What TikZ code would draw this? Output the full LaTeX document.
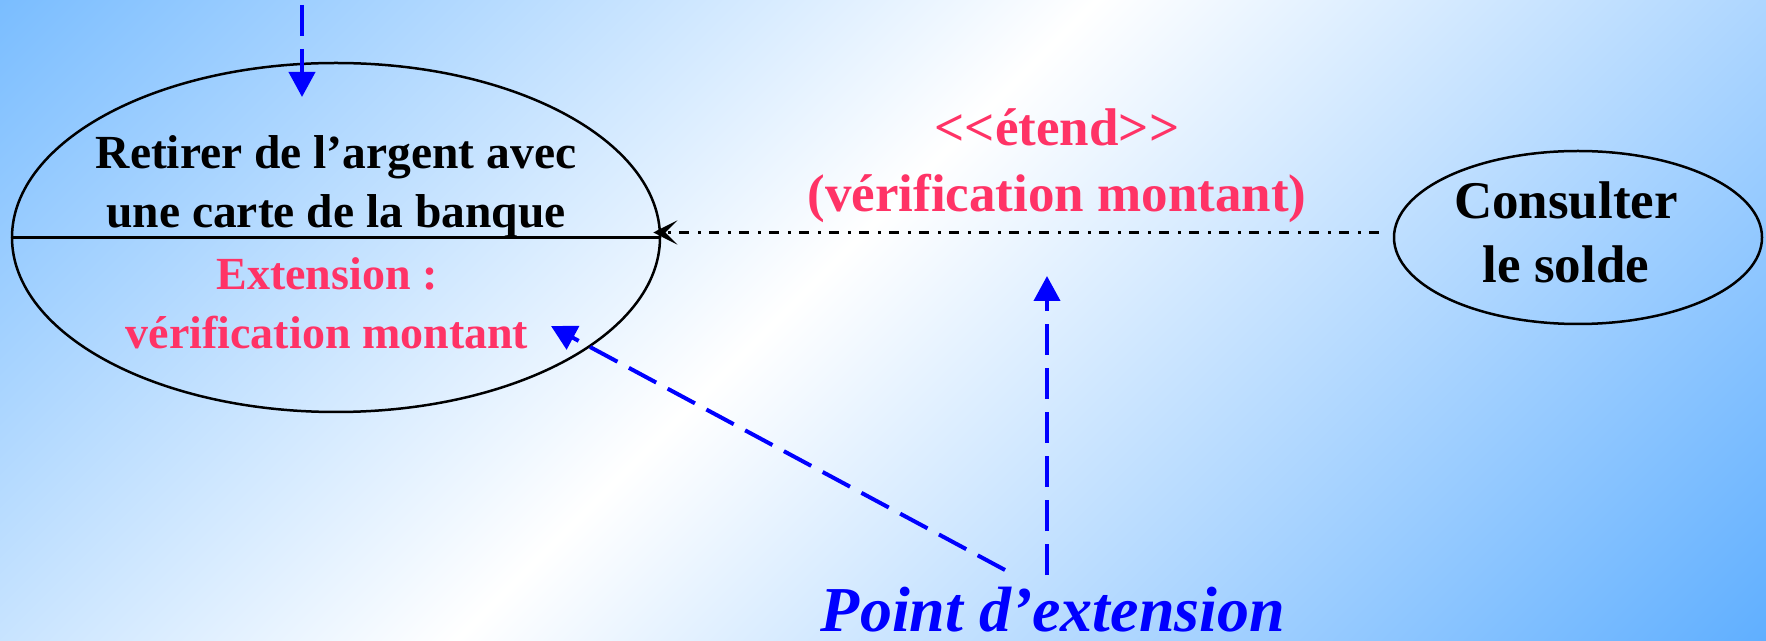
\documentclass[tikz,border=0pt]{standalone}
\usepackage{fontspec}
\setmainfont{Liberation Serif}
\usetikzlibrary{shapes.geometric,arrows.meta}

\definecolor{umlpink}{RGB}{255,51,102}
\definecolor{umlblue}{RGB}{0,0,255}
\definecolor{bgtl}{RGB}{122,189,255}
\definecolor{bgbr}{RGB}{96,175,255}
\pgfdeclarehorizontalshading{bgshade}{100bp}{color(0bp)=(bgtl); color(26.4bp)=(bgtl); color(47.9bp)=(white); color(73.6bp)=(bgbr); color(100bp)=(bgbr)}

\tikzset{
  usecase/.style={draw,line width=2.5pt,ellipse,inner sep=0pt},
  casetxt/.style={font=\fontsize{47.5}{59}\selectfont\bfseries,align=center,inner sep=0pt},
  bigtxt/.style={font=\fontsize{53}{64}\selectfont\bfseries,align=center,inner sep=0pt},
  extarrow/.style={umlblue,line width=4pt,dash pattern=on 31pt off 13pt,-{Triangle[length=25pt,width=26pt]}},
  extendline/.style={line width=2.5pt,dash pattern=on 10pt off 8pt on 3pt off 9pt,-{Stealth[length=24pt,width=24pt,inset=12pt]}}
}

\begin{document}
\begin{tikzpicture}[x=1pt,y=1pt]
\useasboundingbox (0,0) rectangle (1766,640);
\begin{scope}
\clip (0,0) rectangle (1766,640);
\shade[shading=bgshade,transform canvas={shift={(883,320)},rotate=-45}] (-900,-900) rectangle (900,900);
\end{scope}

% cas d'utilisation de base
\node[usecase,minimum width=648pt,minimum height=349pt] (retirer) at (336,402.5) {};
\draw[line width=2.5pt] (retirer.west) -- (retirer.east);
\node[casetxt] (retirertxt) at (336,453) {Retirer de l’argent avec\\une carte de la banque};
\node[casetxt,umlpink,font=\fontsize{46}{59}\selectfont\bfseries] (pointtxt) at (327,337) {Extension :\\vérification montant};

% cas qui etend
\node[usecase,minimum width=368pt,minimum height=173pt] (consult) at (1578,402.5) {};
\node[bigtxt] (consulttxt) at (1566,408) {Consulter\\le solde};

\node[bigtxt,umlpink,font=\fontsize{53}{66}\selectfont\bfseries] (etend) at (1057,474) {<\kern0pt<étend>\kern0pt>\\(vérification montant)};
\draw[extendline,shorten <=14pt,shorten >=-8pt] ([yshift=5pt]consult.west) -- ([yshift=5pt]retirer.east);

% point d'extension
\node[font=\fontsize{64}{64}\selectfont\bfseries\itshape,umlblue,inner sep=0pt] (ptlabel) at (1053,30) {Point d’extension};
\coordinate (topin) at (302,635);
\coordinate (toptip) at (302,543);
\coordinate (ptup) at (1047,65);
\coordinate (ptdiag) at (1005,70);
\coordinate (uptip) at (1047,364);
\coordinate (diagtip) at (551,314);
\draw[extarrow] (topin) -- (toptip);
\draw[extarrow] (ptup) -- (uptip);
\draw[extarrow] (ptdiag) -- (diagtip);
\end{tikzpicture}
\end{document}
